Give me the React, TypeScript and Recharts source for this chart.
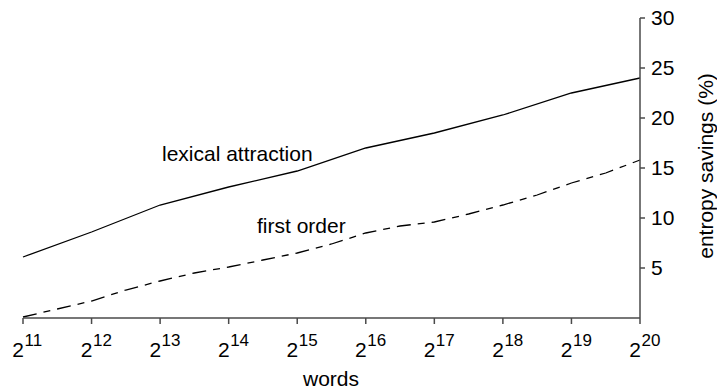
import { LineChart, Line, XAxis, YAxis, Customized } from 'recharts';

const FONT = '"Liberation Sans", Arial, sans-serif';
const AXIS = '#4a4a4a';

// exponents of 2 (number of words)
const exponents = [11, 12, 13, 14, 15, 16, 17, 18, 19, 20];
const halfSteps = [11, 11.5, 12, 12.5, 13, 13.5, 14, 14.5, 15, 15.5, 16, 16.5, 17, 17.5, 18, 18.5, 19, 19.5, 20];

// entropy savings (%)
const lexicalAttraction = [6.1, 8.6, 11.3, 13.1, 14.7, 17.0, 18.5, 20.3, 22.5, 24.0];
const firstOrder = [0.1, 0.9, 1.7, 2.8, 3.7, 4.5, 5.1, 5.8, 6.5, 7.4, 8.5, 9.2, 9.6, 10.4, 11.3, 12.3, 13.5, 14.5, 15.8];

const yTicks = [5, 10, 15, 20, 25, 30];

const rows = halfSteps.map((k, i) => {
  const j = exponents.indexOf(k);
  return {
    k,
    first: firstOrder[i],
    lexical: j >= 0 ? lexicalAttraction[j] : undefined,
  };
});

const PowerTick = (props: any) => {
  const { x, y, payload } = props;
  return (
    <g fontFamily={FONT} fill="#000">
      <text x={x + 1} y={y + 31} textAnchor="end" fontSize={21}>2</text>
      <text x={x + 1.5} y={y + 20} textAnchor="start" fontSize={17}>{payload.value}</text>
    </g>
  );
};

const Notes = () => (
  <g fontFamily={FONT} fontSize={21} fill="#000">
    <text x={162} y={161}>lexical attraction</text>
    <text x={257} y={233}>first order</text>
    <text x={331} y={386} textAnchor="middle">words</text>
    <text transform="translate(712.5,166) rotate(-90)" textAnchor="middle">entropy savings (%)</text>
  </g>
);

export default function App() {
  return (
    <div style={{ position: 'absolute', left: 0, top: 0, background: '#fff' }}>
      <LineChart width={717} height={392} data={rows} margin={{ top: 18, right: 0, left: 23, bottom: 0 }}>
        <XAxis
          dataKey="k"
          type="number"
          domain={[11, 20]}
          ticks={exponents}
          height={74}
          stroke={AXIS}
          strokeWidth={1.5}
          tickSize={6}
          tick={<PowerTick />}
        />
        <YAxis
          orientation="right"
          domain={[0, 30]}
          ticks={yTicks}
          width={77}
          stroke={AXIS}
          strokeWidth={1.5}
          tickSize={5}
          tickMargin={6}
          tick={{ fill: '#000', fontSize: 21, fontFamily: FONT }}
        />
        <Line
          dataKey="lexical"
          stroke="#000"
          strokeWidth={1.3}
          dot={false}
          connectNulls
          isAnimationActive={false}
        />
        <Line
          dataKey="first"
          stroke="#000"
          strokeWidth={1.3}
          strokeDasharray="14 7 7 7"
          dot={false}
          isAnimationActive={false}
        />
        <Customized component={Notes} />
      </LineChart>
    </div>
  );
}
